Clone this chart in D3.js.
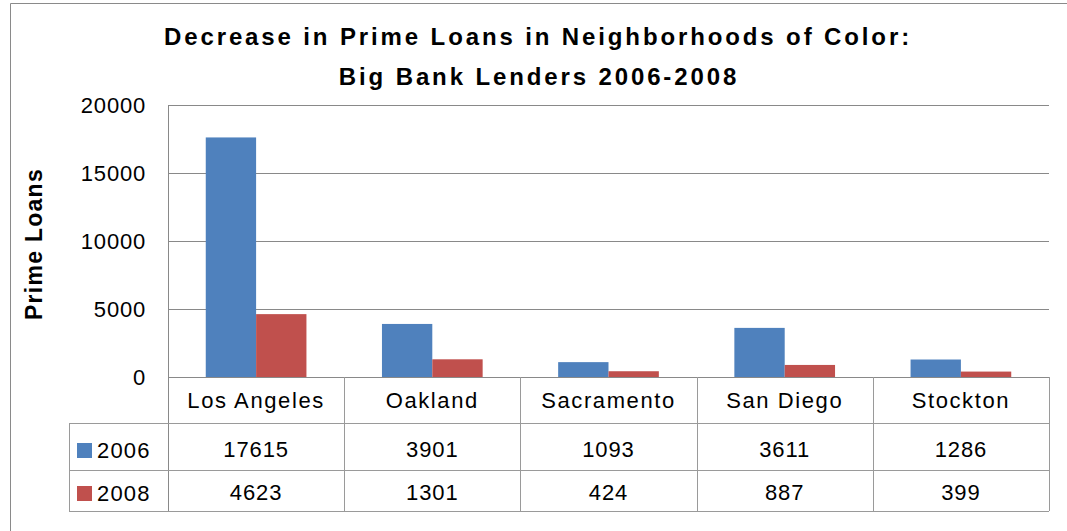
<!DOCTYPE html>
<html><head><meta charset="utf-8">
<script src="https://cdn.jsdelivr.net/npm/d3@7"></script>
<style>
html,body{margin:0;padding:0;background:#fff;}
svg{display:block;}
text{font-family:"Liberation Sans",Arial,sans-serif;fill:#000;}
</style></head>
<body><svg id="c" width="1067" height="531"></svg>
<script>
const categories = ["Los Angeles","Oakland","Sacramento","San Diego","Stockton"];
const seriesNames = ["2006","2008"];
const values2006 = [17615,3901,1093,3611,1286];
const values2008 = [4623,1301,424,887,399];
const yTicks = [0,5000,10000,15000,20000];
const titleLines = ["Decrease in Prime Loans in Neighborhoods of Color:","Big Bank Lenders 2006-2008"];
const yTitle = "Prime Loans";
const colors = ["#4F81BD","#C0504D"];

const series = [values2006, values2008];
const svg = d3.select("#c");
const L = 168, R = 1049, T = 105, B = 377;
const tableLeft = 69, rowH = [377,423,470,511];
const lineCol = "#898989";

// outer border (chart area extends beyond the picture on right and bottom)
svg.append("path").attr("d","M10.5,540 V3.5 H1080").attr("fill","none").attr("stroke","#8a8a8a").attr("stroke-width",1);

const x = d3.scaleBand().domain(categories).range([L,R]).padding(0);
const xi = d3.scaleBand().domain(seriesNames).range([0,x.bandwidth()]).paddingInner(0).paddingOuter(0.75);
const y = d3.scaleLinear().domain([0,20000]).range([B,T]);

// gridlines via axis
const yAxis = d3.axisLeft(y).tickValues(yTicks).tickSize(-(R-L)).tickFormat(d=>String(d)).tickPadding(22);
const gy = svg.append("g").attr("transform",`translate(${L},0)`).call(yAxis);
gy.select(".domain").remove();
gy.selectAll(".tick line").attr("stroke",lineCol).attr("stroke-width",1).attr("shape-rendering","crispEdges");
gy.selectAll(".tick text").attr("font-size",22).attr("font-family","'Liberation Sans',Arial,sans-serif").attr("fill","#000").attr("letter-spacing","0.8px").attr("dy","0.36em");

// bars
const g = svg.append("g");
seriesNames.forEach((s,si)=>{
  g.selectAll(".b"+si).data(categories).enter().append("rect")
    .attr("x",d=>x(d)+xi(s))
    .attr("width",xi.bandwidth())
    .attr("y",(d,i)=>y(series[si][i]))
    .attr("height",(d,i)=>B-y(series[si][i]))
    .attr("fill",colors[si]);
});

// plot left border
svg.append("line").attr("x1",L+0.5).attr("x2",L+0.5).attr("y1",T).attr("y2",rowH[3]).attr("stroke",lineCol);

// table lines
const tg = svg.append("g").attr("stroke","#9a9a9a").attr("stroke-width",1).attr("shape-rendering","crispEdges");
tg.append("line").attr("x1",L).attr("x2",R).attr("y1",rowH[0]+0.5).attr("y2",rowH[0]+0.5).attr("stroke",lineCol);
[1,2,3].forEach(k=>tg.append("line").attr("x1",tableLeft).attr("x2",R).attr("y1",rowH[k]+0.5).attr("y2",rowH[k]+0.5));
tg.append("line").attr("x1",tableLeft+0.5).attr("x2",tableLeft+0.5).attr("y1",rowH[1]).attr("y2",rowH[3]);
categories.forEach(c=>{
  tg.append("line").attr("x1",x(c)+x.bandwidth()+0.5).attr("x2",x(c)+x.bandwidth()+0.5).attr("y1",rowH[0]).attr("y2",rowH[3]);
});

// category labels
svg.append("g").selectAll("text").data(categories).enter().append("text")
  .attr("x",d=>x(d)+x.bandwidth()/2).attr("y",408)
  .attr("text-anchor","middle").attr("font-size",22).attr("letter-spacing","1.6px")
  .text(d=>d);

// values rows
const rowBase = [457,500];
series.forEach((vals,si)=>{
  svg.append("g").selectAll("text").data(vals).enter().append("text")
    .attr("x",(d,i)=>x(categories[i])+x.bandwidth()/2).attr("y",rowBase[si])
    .attr("text-anchor","middle").attr("font-size",22).attr("letter-spacing","0.9px")
    .text(d=>d);
  svg.append("rect").attr("x",77).attr("y",rowBase[si]-14).attr("width",15).attr("height",15).attr("fill",colors[si]);
  svg.append("text").attr("x",97).attr("y",rowBase[si]+1).attr("font-size",22).attr("letter-spacing","1.2px").text(seriesNames[si]);
});

// title
const tt = svg.append("g");
const t1 = tt.append("text").attr("x",538).attr("y",45).attr("text-anchor","middle").attr("font-size",24).attr("font-weight","bold").text(titleLines[0]);
const t2 = tt.append("text").attr("x",539).attr("y",85).attr("text-anchor","middle").attr("font-size",24).attr("font-weight","bold").text(titleLines[1]);
const nat = t1.node().getComputedTextLength();
const ls = (748 - nat)/(titleLines[0].length);
t1.attr("letter-spacing",ls+"px");
t2.attr("letter-spacing",ls+"px");

// y title
const yt = svg.append("text").attr("transform","translate(42,244) rotate(-90)").attr("text-anchor","middle")
  .attr("font-size",23).attr("font-weight","bold").text(yTitle);
const natY = yt.node().getComputedTextLength();
yt.attr("letter-spacing",((152-natY)/yTitle.length)+"px");
</script></body></html>
